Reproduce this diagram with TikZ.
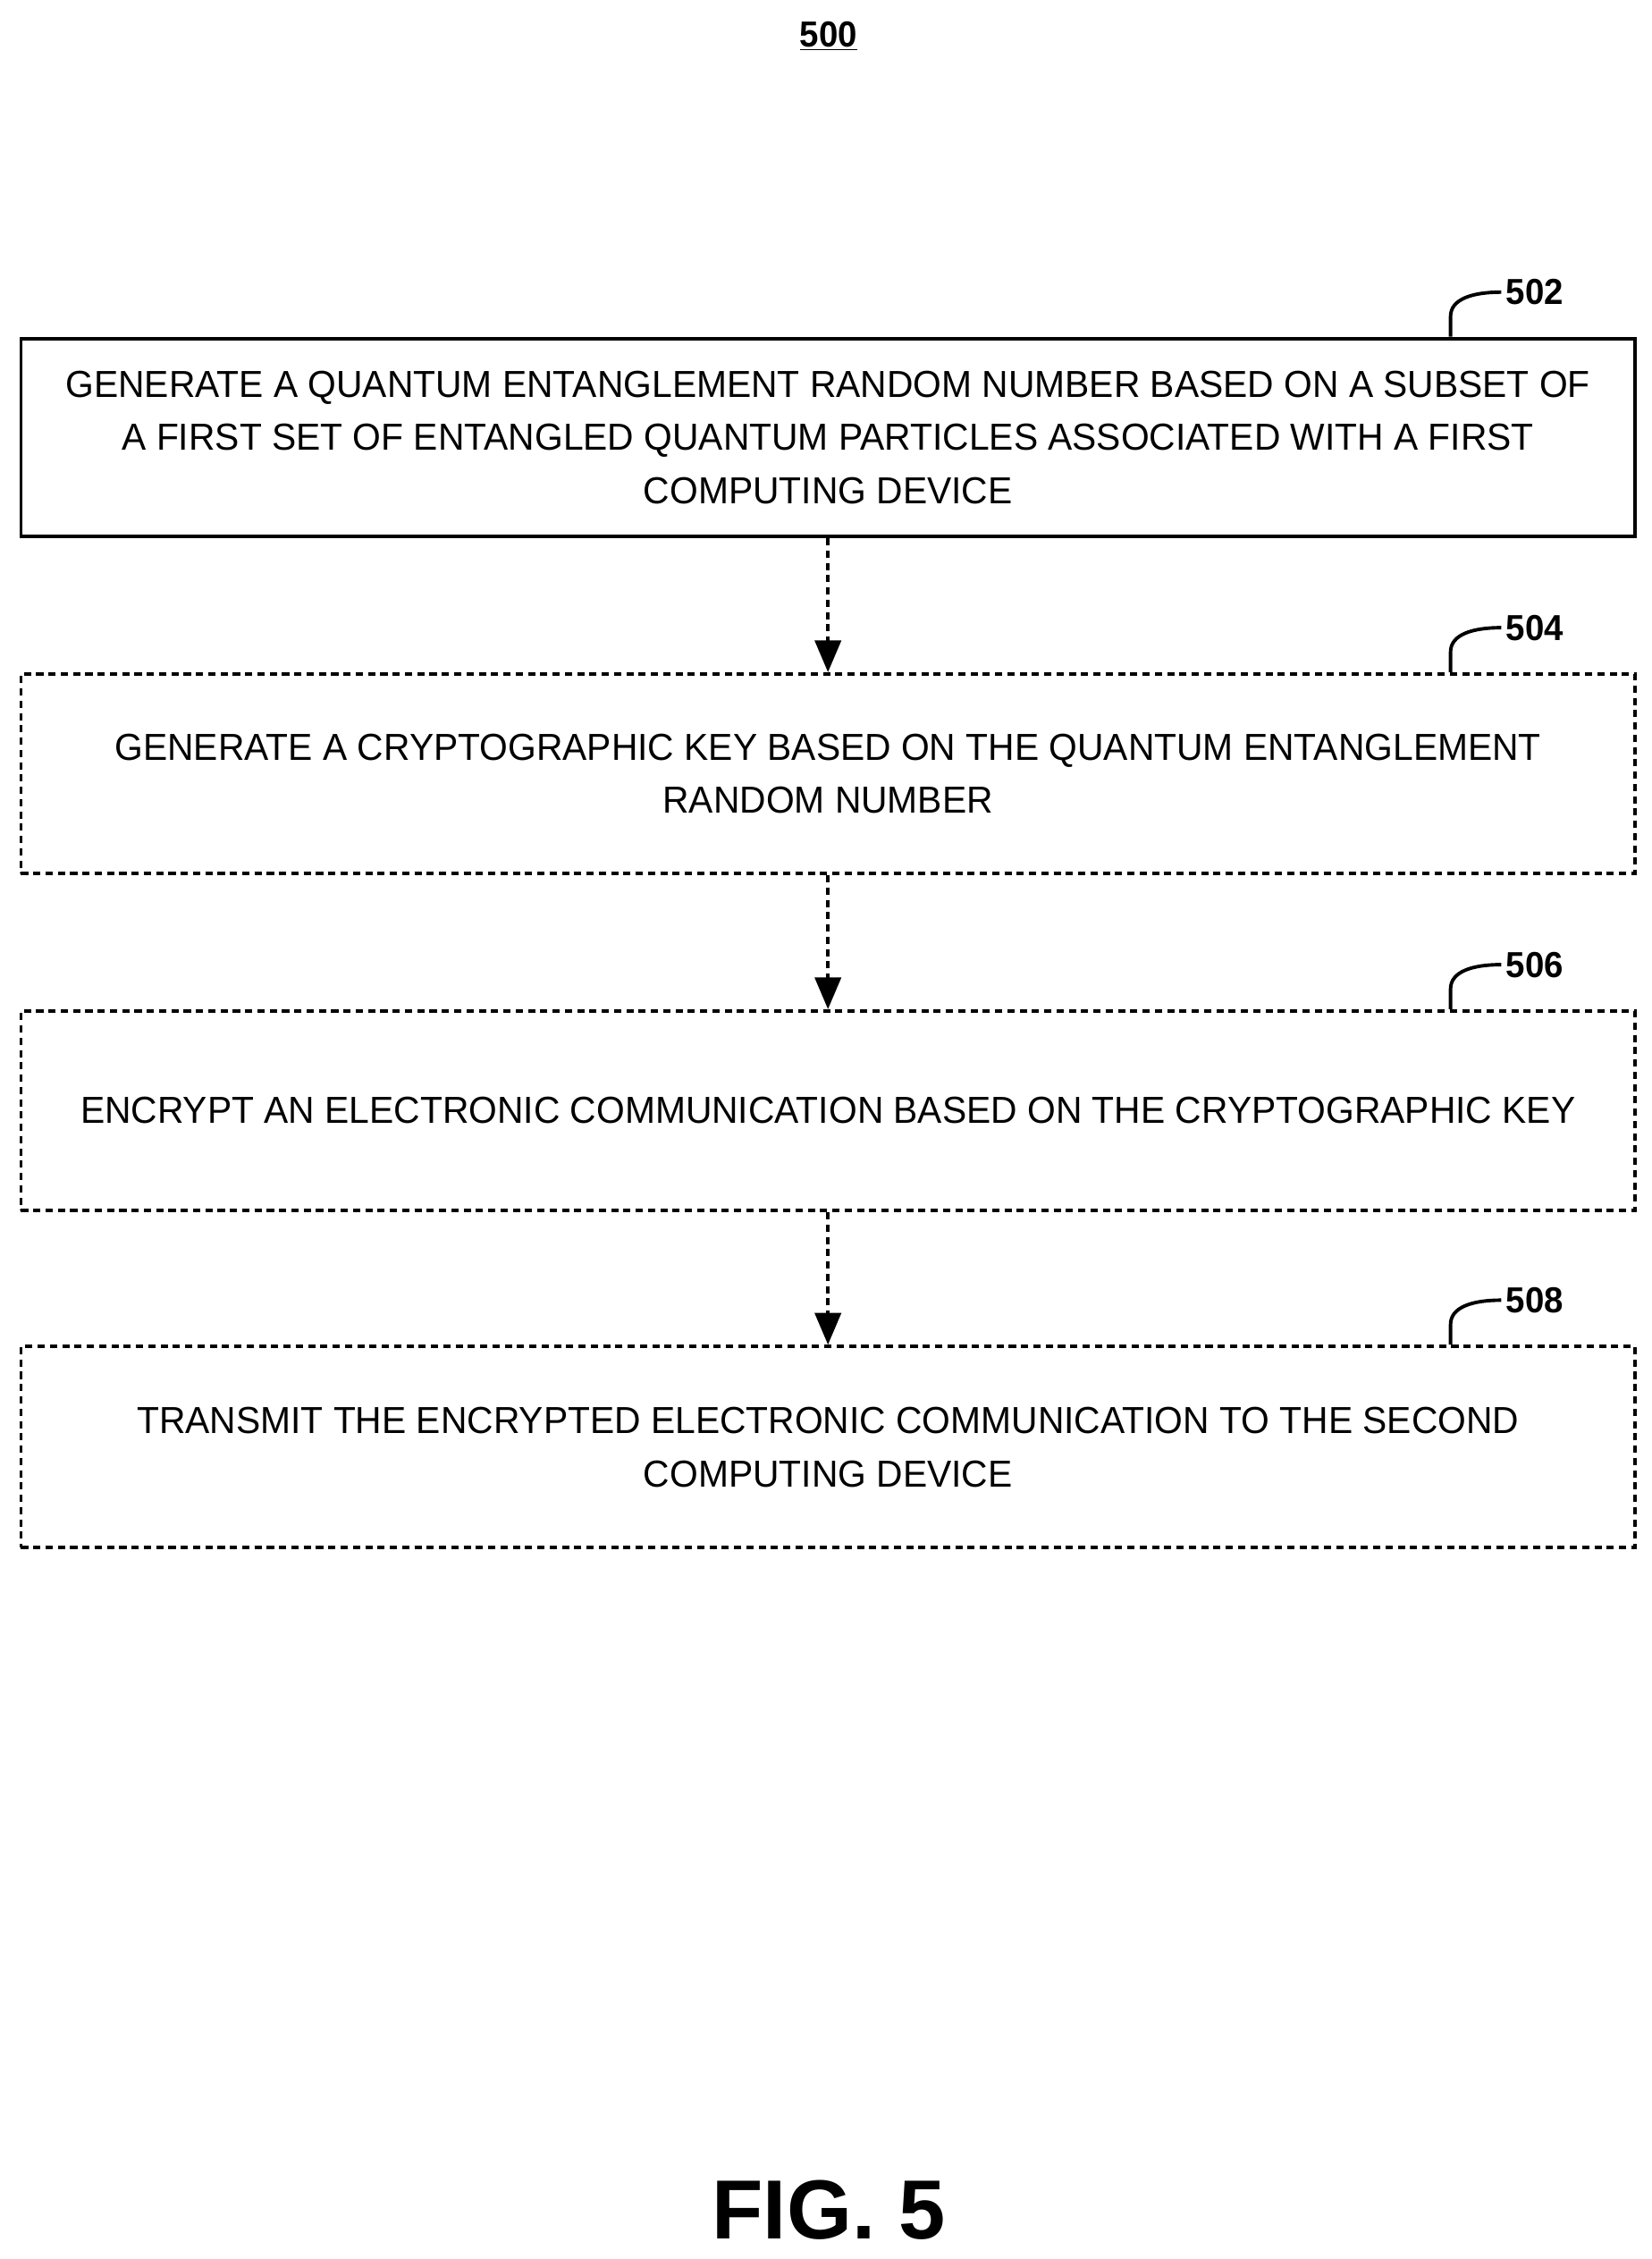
\documentclass[tikz,border=0pt]{standalone}
\usepackage{fontspec}
\setmainfont{Liberation Sans}[FakeStretch=0.97]
\newfontfamily\plainsans{Liberation Sans}
\usetikzlibrary{arrows.meta}
\begin{document}
\begin{tikzpicture}[x=1pt,y=-1pt,
 box/.style={draw,line width=2.4pt,minimum width=1116pt,align=center,font=\fontsize{26}{37}\selectfont,inner sep=0pt},
 dbox/.style={box,dash pattern=on 5pt off 3.5pt},
 arr/.style={line width=2.4pt,dash pattern=on 5pt off 3.5pt,-{Triangle[width=18pt,length=22pt]}},
 hook/.style={line width=2.4pt},
 lab/.style={font=\plainsans\bfseries\fontsize{25}{25}\selectfont,anchor=west,xscale=0.95}]
\useasboundingbox (0,0) rectangle (1142,1562);
\node[font=\plainsans\bfseries\fontsize{25}{25}\selectfont,xscale=0.95] (t) at (573,25) {\underline{500}};
\node[box,minimum height=137pt] (b1) at (572.5,302.5) {GENERATE A QUANTUM ENTANGLEMENT RANDOM NUMBER BASED ON A SUBSET OF\\A FIRST SET OF ENTANGLED QUANTUM PARTICLES ASSOCIATED WITH A FIRST\\COMPUTING DEVICE};
\node[dbox,minimum height=138pt] (b2) at (572.5,535) {GENERATE A CRYPTOGRAPHIC KEY BASED ON THE QUANTUM ENTANGLEMENT\\RANDOM NUMBER};
\node[dbox,minimum height=138pt] (b3) at (572.5,768) {ENCRYPT AN ELECTRONIC COMMUNICATION BASED ON THE CRYPTOGRAPHIC KEY};
\node[dbox,minimum height=139pt] (b4) at (572.5,1000.5) {TRANSMIT THE ENCRYPTED ELECTRONIC COMMUNICATION TO THE SECOND\\COMPUTING DEVICE};
\draw[arr] (b1) -- (b2);
\draw[arr] (b2) -- (b3);
\draw[arr] (b3) -- (b4);
\foreach \b/\n/\y in {b1/502/233,b2/504/465,b3/506/698,b4/508/930}{
 \coordinate (h\n) at (1038,\y-31);
 \draw[hook] (\b.north -| 1003,0) -- ++(0,-14) .. controls ++(0,-12) and ++(-20,0) .. (h\n);
 \node[lab] (l\n) at (h\n) {\n};
}
\node[font=\plainsans\bfseries\fontsize{58}{58}\selectfont] (fig) at (573,1528) {FIG. 5};
\end{tikzpicture}
\end{document}
